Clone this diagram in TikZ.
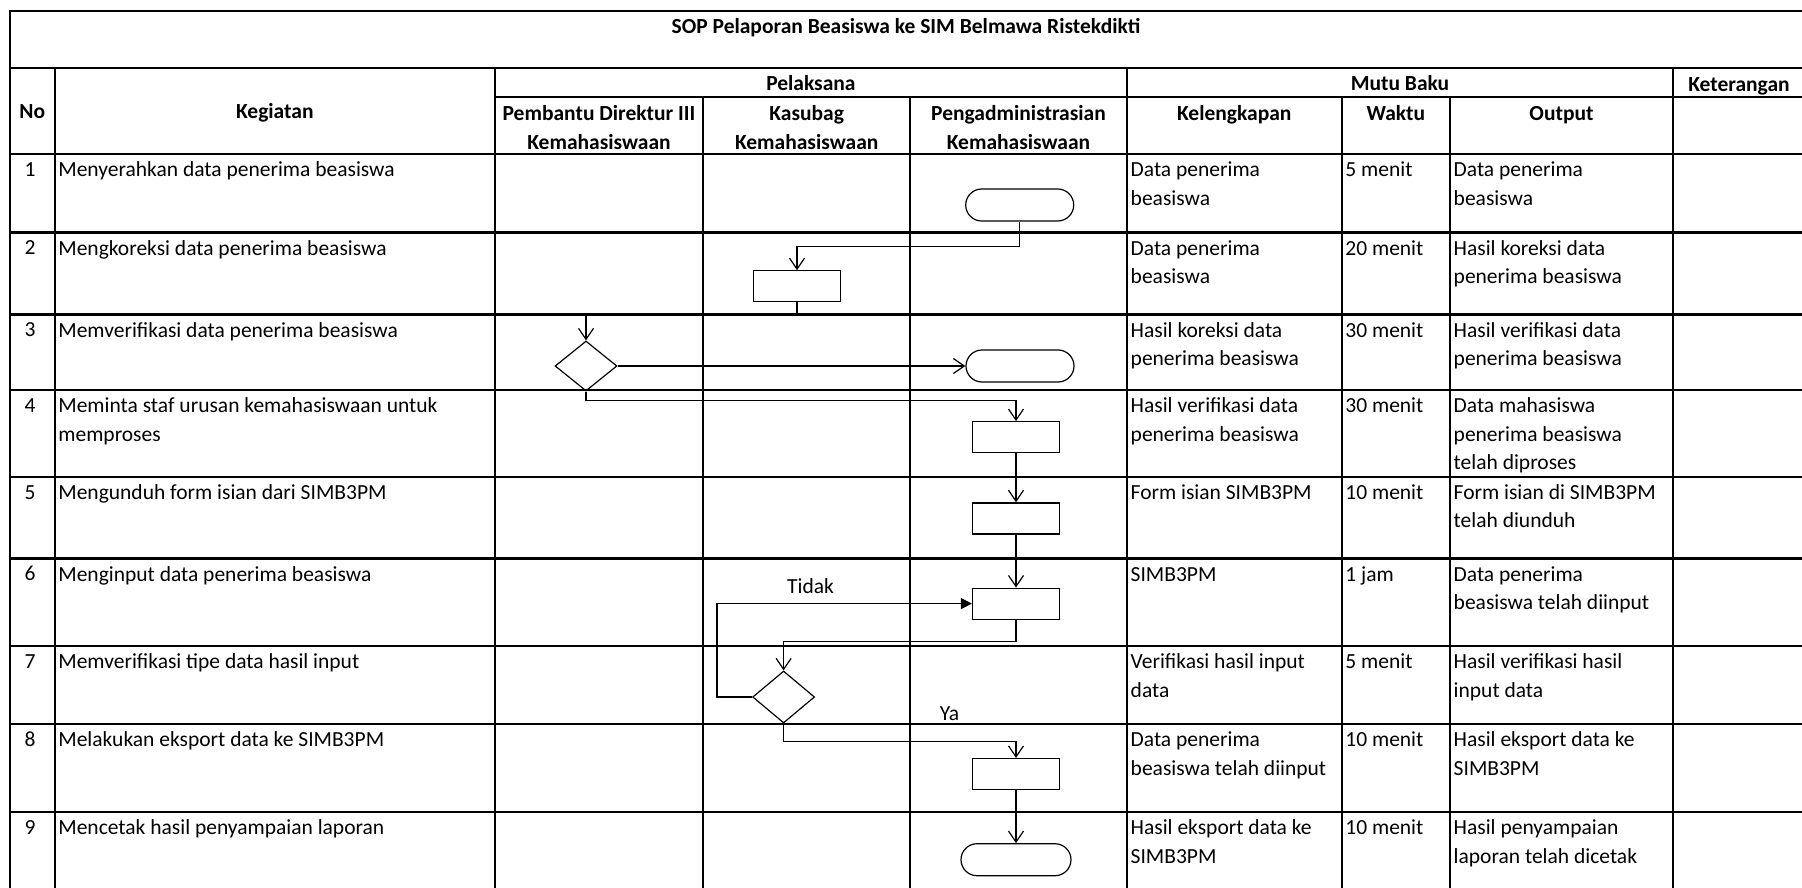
\documentclass[tikz,border=0pt]{standalone}
\usepackage{fontspec}
\setmainfont{Carlito}
\usetikzlibrary{shapes.geometric, arrows.meta, positioning}
\newcommand{\cellfont}{\fontsize{21.5}{28.5}\selectfont}

\begin{document}
\begin{tikzpicture}[x=1pt, y=-1pt]
    \tikzstyle{tabline} = [line width=2.2pt, black]
    \tikzstyle{headtext} = [anchor=base, inner sep=0pt, font=\cellfont\bfseries]
    \tikzstyle{headtwo} = [anchor=north, inner sep=0pt, align=center, font=\cellfont\bfseries]
    \tikzstyle{celltext} = [anchor=north west, inner sep=0pt, align=left, font=\cellfont]
    \tikzstyle{numtext} = [anchor=base, inner sep=0pt, font=\cellfont]
    \tikzstyle{actbox} = [rectangle, draw, line width=1.2pt, minimum width=87pt, minimum height=31pt, inner sep=0pt]
    \tikzstyle{termbox} = [rectangle, rounded corners=16pt, draw, line width=1.2pt, minimum width=108pt, minimum height=32pt, inner sep=0pt]
    \tikzstyle{decbox} = [diamond, draw, line width=1.2pt, minimum width=62pt, minimum height=50pt, inner sep=0pt]
    \tikzstyle{flowarrow} = [line width=1.2pt, -{Straight Barb[length=11pt, width=15pt]}]
    \tikzstyle{backarrow} = [line width=1.2pt, -{Triangle[length=11pt, width=11pt]}]

    \useasboundingbox (0,0) rectangle (1802,888);

    % table frame and rows
    \draw[tabline] (1802,11) -- (9.6,11) -- (9.6,888);
    \draw[tabline] (9.6,68.3) -- (1802,68.3);
    \draw[tabline] (494.8,96.7) -- (1802,96.7);
    \draw[tabline] (9.6,154.3) -- (1802,154.3);
    \draw[tabline] (9.6,232.5) -- (1802,232.5);
    \draw[tabline] (9.6,314.5) -- (1802,314.5);
    \draw[tabline] (9.6,390) -- (1802,390);
    \draw[tabline] (9.6,476.7) -- (1802,476.7);
    \draw[tabline] (9.6,558.5) -- (1802,558.5);
    \draw[tabline] (9.6,646) -- (1802,646);
    \draw[tabline] (9.6,724.3) -- (1802,724.3);
    \draw[tabline] (9.6,812.3) -- (1802,812.3);
    % columns
    \draw[tabline] (54.7,68.3) -- (54.7,888);
    \draw[tabline] (494.8,68.3) -- (494.8,888);
    \draw[tabline] (703.3,96.7) -- (703.3,888);
    \draw[tabline] (910,96.7) -- (910,888);
    \draw[tabline] (1127,68.3) -- (1127,888);
    \draw[tabline] (1341.6,96.7) -- (1341.6,888);
    \draw[tabline] (1450,96.7) -- (1450,888);
    \draw[tabline] (1673,68.3) -- (1673,888);

    % headings
    \node[headtext] (title) at (906,33.3) {SOP Pelaporan Beasiswa ke SIM Belmawa Ristekdikti};
    \node[headtext] (no) at (32.2,118.3) {No};
    \node[headtext] (keg) at (274.8,118.3) {Kegiatan};
    \node[headtext] (pel) at (810.9,90.7) {Pelaksana};
    \node[headtext] (mutu) at (1400,90.7) {Mutu Baku};
    \node[headtext] (ket) at (1739,91.7) {Keterangan};
    \node[headtwo] (pd) at (599,100.8) {\strut Pembantu Direktur III\\Kemahasiswaan};
    \node[headtwo] (ksb) at (806.7,100.8) {\strut Kasubag\\Kemahasiswaan};
    \node[headtwo] (adm) at (1018.5,100.8) {\strut Pengadministrasian\\Kemahasiswaan};
    \node[headtext] (kel) at (1234.3,120.7) {Kelengkapan};
    \node[headtext] (wkt) at (1395.8,120.7) {Waktu};
    \node[headtext] (out) at (1561.5,120.7) {Output};

    % row numbers
    \node[numtext] (n1) at (30,176.7) {1};
    \node[numtext] (n2) at (30,254.9) {2};
    \node[numtext] (n3) at (30,336.9) {3};
    \node[numtext] (n4) at (30,412.4) {4};
    \node[numtext] (n5) at (30,499.1) {5};
    \node[numtext] (n6) at (30,580.9) {6};
    \node[numtext] (n7) at (30,668.4) {7};
    \node[numtext] (n8) at (30,746.7) {8};
    \node[numtext] (n9) at (30,834.7) {9};

    % kegiatan
    \node[celltext] (k1) at (58.2,156.8) {\strut Menyerahkan data penerima beasiswa};
    \node[celltext] (k2) at (58.2,235) {\strut Mengkoreksi data penerima beasiswa};
    \node[celltext] (k3) at (58.2,317) {\strut Memverifikasi data penerima beasiswa};
    \node[celltext] (k4) at (58.2,392.5) {\strut Meminta staf urusan kemahasiswaan untuk\\memproses};
    \node[celltext] (k5) at (58.2,479.2) {\strut Mengunduh form isian dari SIMB3PM};
    \node[celltext] (k6) at (58.2,561) {\strut Menginput data penerima beasiswa};
    \node[celltext] (k7) at (58.2,648.5) {\strut Memverifikasi tipe data hasil input};
    \node[celltext] (k8) at (58.2,726.8) {\strut Melakukan eksport data ke SIMB3PM};
    \node[celltext] (k9) at (58.2,814.8) {\strut Mencetak hasil penyampaian laporan};

    % kelengkapan
    \node[celltext] (kl1) at (1130.5,156.8) {\strut Data penerima\\beasiswa};
    \node[celltext] (kl2) at (1130.5,235) {\strut Data penerima\\beasiswa};
    \node[celltext] (kl3) at (1130.5,317) {\strut Hasil koreksi data\\penerima beasiswa};
    \node[celltext] (kl4) at (1130.5,392.5) {\strut Hasil verifikasi data\\penerima beasiswa};
    \node[celltext] (kl5) at (1130.5,479.2) {\strut Form isian SIMB3PM};
    \node[celltext] (kl6) at (1130.5,561) {\strut SIMB3PM};
    \node[celltext] (kl7) at (1130.5,648.5) {\strut Verifikasi hasil input\\data};
    \node[celltext] (kl8) at (1130.5,726.8) {\strut Data penerima\\beasiswa telah diinput};
    \node[celltext] (kl9) at (1130.5,814.8) {\strut Hasil eksport data ke\\SIMB3PM};

    % waktu
    \node[celltext] (w1) at (1345.2,156.8) {\strut 5 menit};
    \node[celltext] (w2) at (1345.2,235) {\strut 20 menit};
    \node[celltext] (w3) at (1345.2,317) {\strut 30 menit};
    \node[celltext] (w4) at (1345.2,392.5) {\strut 30 menit};
    \node[celltext] (w5) at (1345.2,479.2) {\strut 10 menit};
    \node[celltext] (w6) at (1345.2,561) {\strut 1 jam};
    \node[celltext] (w7) at (1345.2,648.5) {\strut 5 menit};
    \node[celltext] (w8) at (1345.2,726.8) {\strut 10 menit};
    \node[celltext] (w9) at (1345.2,814.8) {\strut 10 menit};

    % output
    \node[celltext] (o1) at (1453.5,156.8) {\strut Data penerima\\beasiswa};
    \node[celltext] (o2) at (1453.5,235) {\strut Hasil koreksi data\\penerima beasiswa};
    \node[celltext] (o3) at (1453.5,317) {\strut Hasil verifikasi data\\penerima beasiswa};
    \node[celltext] (o4) at (1453.5,392.5) {\strut Data mahasiswa\\penerima beasiswa\\telah diproses};
    \node[celltext] (o5) at (1453.5,479.2) {\strut Form isian di SIMB3PM\\telah diunduh};
    \node[celltext] (o6) at (1453.5,561) {\strut Data penerima\\beasiswa telah diinput};
    \node[celltext] (o7) at (1453.5,648.5) {\strut Hasil verifikasi hasil\\input data};
    \node[celltext] (o8) at (1453.5,726.8) {\strut Hasil eksport data ke\\SIMB3PM};
    \node[celltext] (o9) at (1453.5,814.8) {\strut Hasil penyampaian\\laporan telah dicetak};

    % flow
    \node[termbox] (t1) at (1019.7,205) {};
    \node[actbox] (b2) at (797,286.3) {};
    \node[decbox] (d3) at (586,366) {};
    \node[termbox] (t3) at (1020,366) {};
    \node[actbox] (b4) at (1016,437.2) {};
    \node[actbox, below=49pt of b4] (b5) {};
    \node[actbox, below=53pt of b5] (b6) {};
    \node[decbox, minimum height=52pt] (d7) at (783.6,697) {};
    \node[actbox] (b8) at (1016,774) {};
    \node[termbox, minimum width=110pt, below=53pt of b8] (t9) {};

    \node[numtext] (tidak) at (810.5,593.5) {Tidak};
    \node[numtext] (ya) at (949.5,720) {Ya};

    \draw[flowarrow] (t1.south) -- ++(0,25) -| (b2.north);
    \draw[flowarrow] (b2.south) -- ++(0,11.5) -| (d3.north);
    \draw[flowarrow] (d3.east) -- (t3.west);
    \draw[flowarrow] (d3.south) -- ++(0,9) -| (b4.north);
    \draw[flowarrow] (b4.south) -- (b5.north);
    \draw[flowarrow] (b5.south) -- (b6.north);
    \draw[flowarrow] (b6.south) -- ++(0,21.5) -| (d7.north);
    \draw[backarrow] (d7.west) -- ++(-35,0) |- (b6.west);
    \draw[flowarrow] (d7.south) -- ++(0,17.5) -| (b8.north);
    \draw[flowarrow] (b8.south) -- (t9.north);
\end{tikzpicture}
\end{document}
